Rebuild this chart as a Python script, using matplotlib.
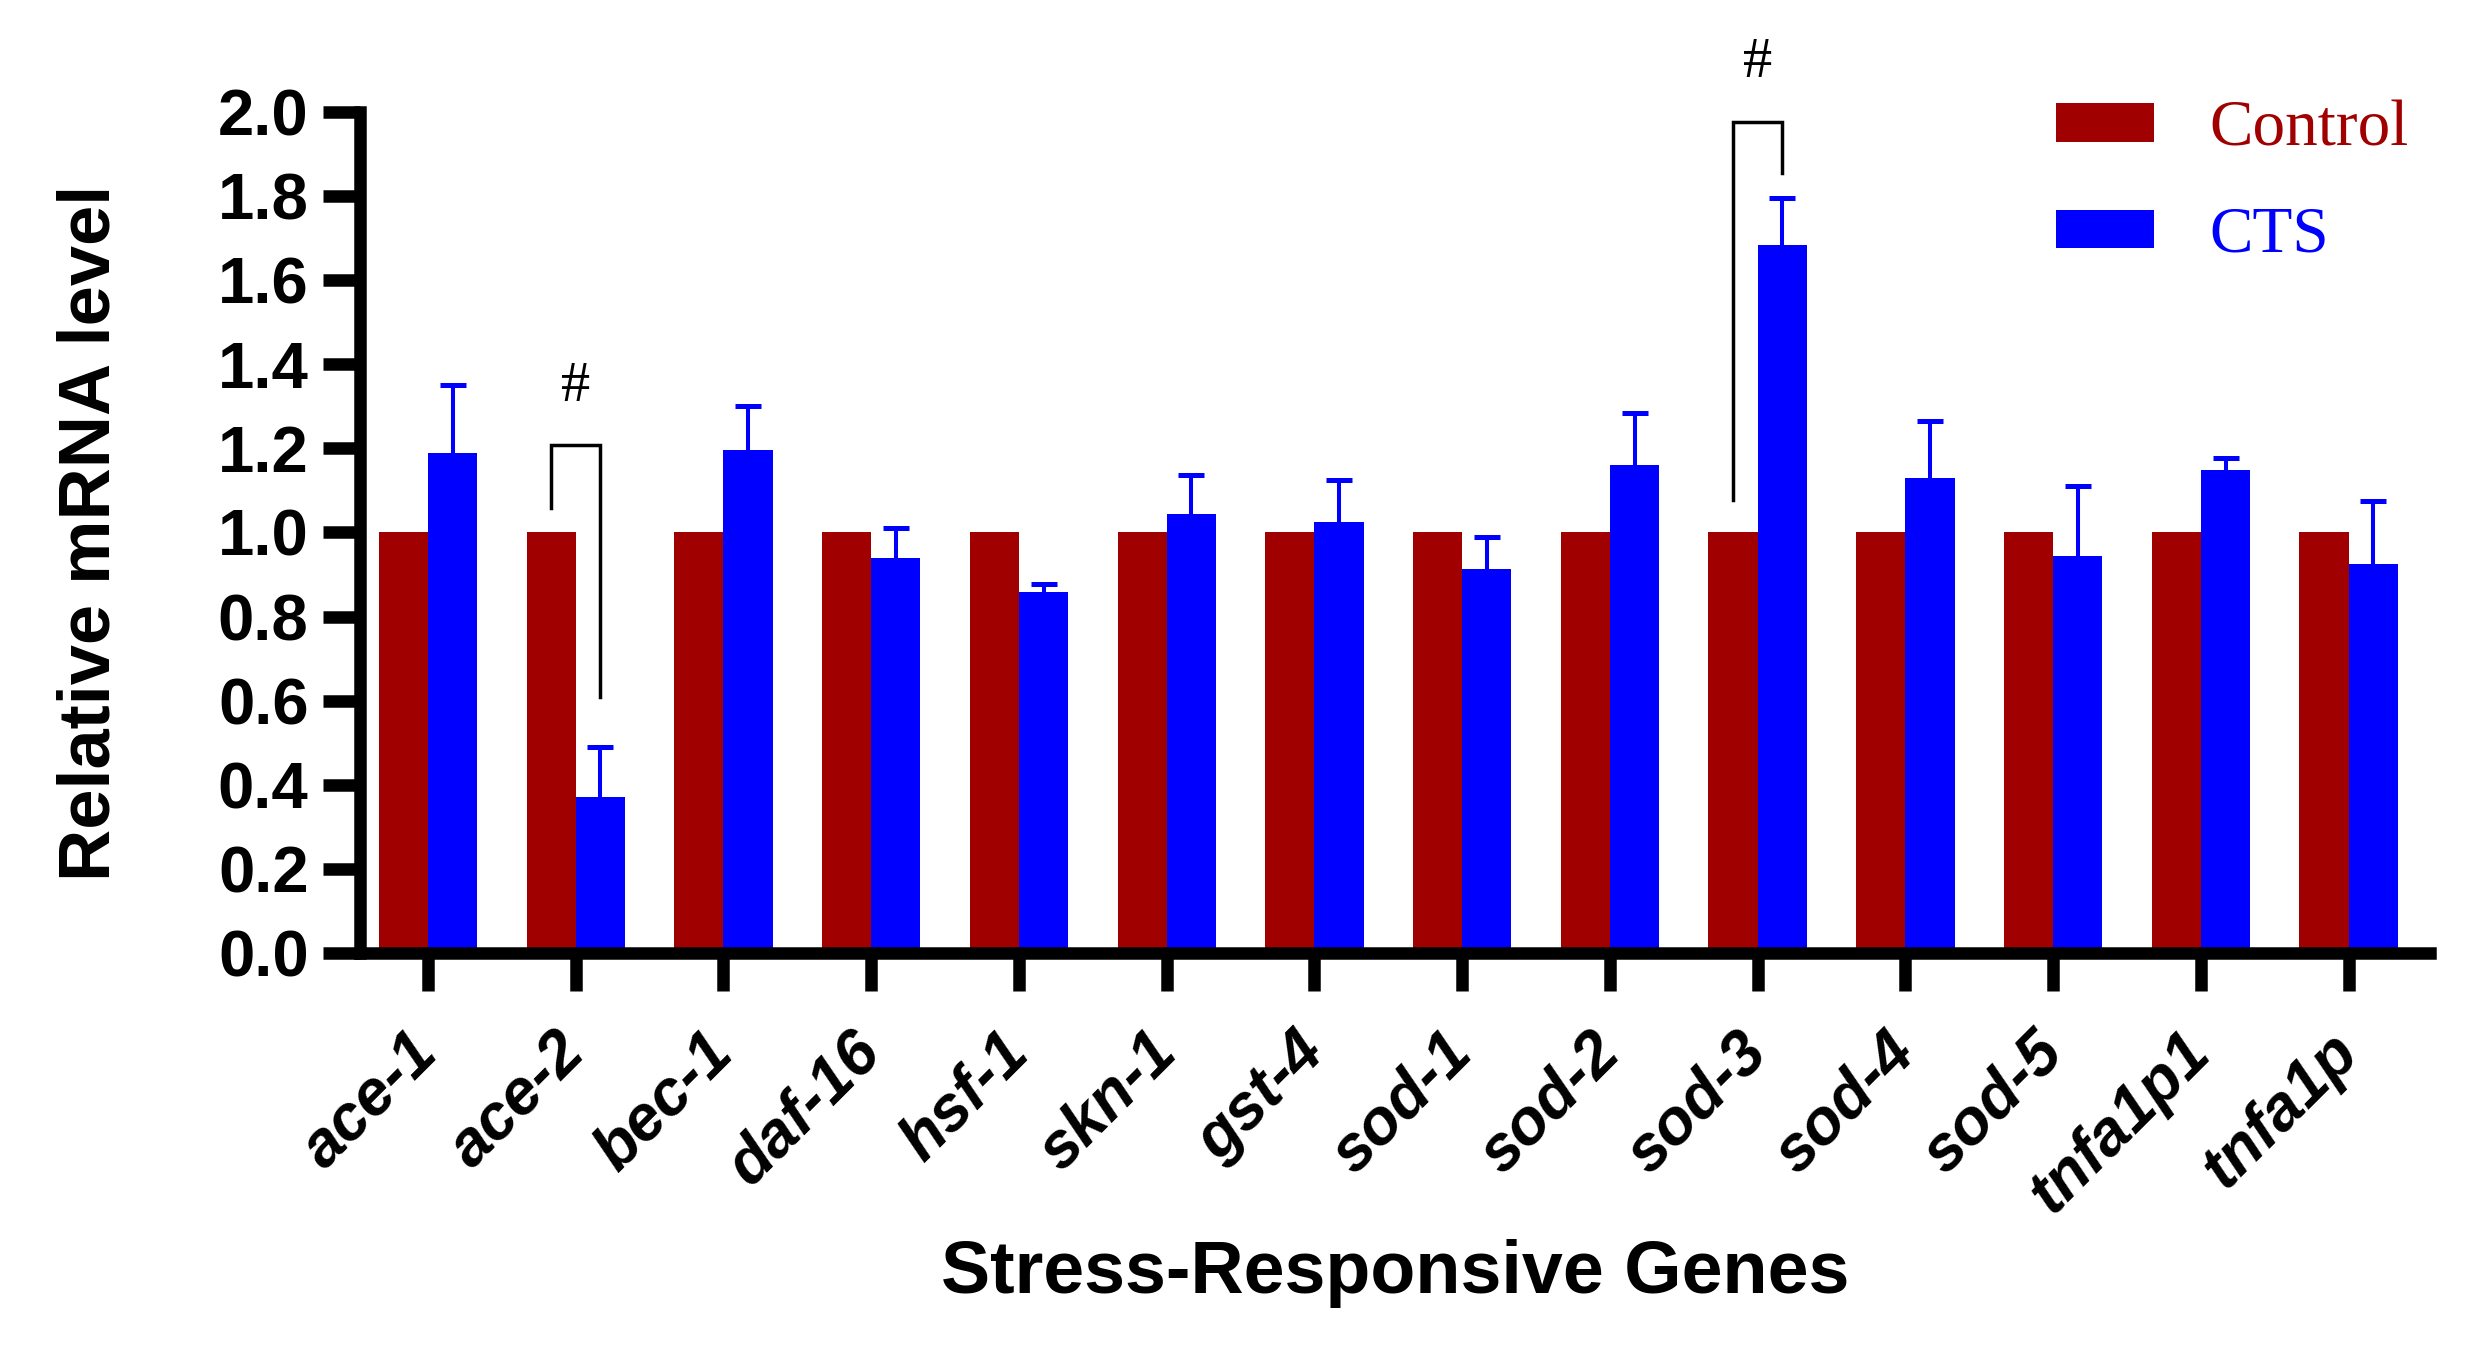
import numpy as np
import matplotlib
matplotlib.use('Agg')
import matplotlib.pyplot as plt

genes = ['ace-1', 'ace-2', 'bec-1', 'daf-16', 'hsf-1', 'skn-1', 'gst-4',
         'sod-1', 'sod-2', 'sod-3', 'sod-4', 'sod-5', 'tnfa1p1', 'tnfa1p']
control = [1.0, 1.0, 1.0, 1.0, 1.0, 1.0, 1.0, 1.0, 1.0, 1.0, 1.0, 1.0, 1.0, 1.0]
cts = [1.190, 0.370, 1.197, 0.939, 0.858, 1.043, 1.024,
       0.914, 1.160, 1.684, 1.130, 0.945, 1.148, 0.926]
cts_err = [0.160, 0.120, 0.103, 0.071, 0.019, 0.093, 0.100,
           0.074, 0.123, 0.111, 0.135, 0.166, 0.030, 0.148]

# significance brackets: (gene index, left foot, top, right foot, label)
brackets = [(1, 1.057, 1.207, 0.608, '#'),
            (9, 1.077, 1.977, 1.854, '#')]

C_CTRL = '#A00000'
C_CTS = '#0000FF'

fig = plt.figure(figsize=(24.76, 13.55), dpi=100)
ax = fig.add_axes([0.1454, 0.2968, 0.836, 0.6205])

x = np.arange(len(genes))
w = 0.333

ax.bar(x - w/2, control, w, color=C_CTRL, linewidth=0, label='Control')
ax.bar(x + w/2, cts, w, color=C_CTS, linewidth=0, label='CTS')
eb = ax.errorbar(x + w/2, cts, yerr=[np.zeros(len(cts)), cts_err], fmt='none',
                 ecolor=C_CTS, elinewidth=2.9, capsize=9.4, capthick=3.6)
# only the upper cap is shown
eb[1][0].set_visible(False)

for i, yl, yt, yr, txt in brackets:
    ax.plot([i - w/2, i - w/2, i + w/2, i + w/2], [yl, yt, yt, yr],
            color='black', lw=2.5, clip_on=False, solid_joinstyle='miter')
    ax.text(i, yt + 0.14, txt, ha='center', va='center', fontsize=42,
            family='Liberation Serif', clip_on=False)

ax.set_xlim(-0.46, 13.55)
ax.set_ylim(0, 2.0)
ax.set_yticks(np.arange(0, 2.01, 0.2))
ax.set_yticklabels([f'{v:.1f}' for v in np.arange(0, 2.01, 0.2)],
                   fontsize=47, fontweight='bold', family='Liberation Sans')
ax.set_xticks(x)
ax.set_xticklabels(genes, fontsize=46, fontweight='bold', fontstyle='italic',
                   family='Liberation Sans', rotation=45, ha='right',
                   va='center', rotation_mode='anchor')

for s in ['top', 'right']:
    ax.spines[s].set_visible(False)
for s in ['left', 'bottom']:
    ax.spines[s].set_linewidth(9)
ax.tick_params(axis='both', width=9, length=27)
ax.tick_params(axis='y', pad=10)
ax.tick_params(axis='x', pad=38)

ax.set_ylabel('Relative mRNA level', fontsize=52, fontweight='bold',
              family='Liberation Sans', va='center')
ax.yaxis.set_label_coords(-0.1304, 0.5)
ax.set_xlabel('Stress-Responsive Genes', fontsize=53, fontweight='bold',
              family='Liberation Sans', va='top')
ax.xaxis.set_label_coords(0.5, -0.340)

leg = ax.legend(loc='upper left', bbox_to_anchor=(2056/2476, 1 - 100/1355),
                bbox_transform=fig.transFigure, frameon=False, borderpad=0,
                borderaxespad=0, handlelength=1.5, handleheight=0.53,
                handletextpad=0.85, labelspacing=0.72,
                prop={'family': 'Liberation Serif', 'size': 47})
for t, c in zip(leg.get_texts(), [C_CTRL, C_CTS]):
    t.set_color(c)

fig.savefig('out.png', dpi=100)
